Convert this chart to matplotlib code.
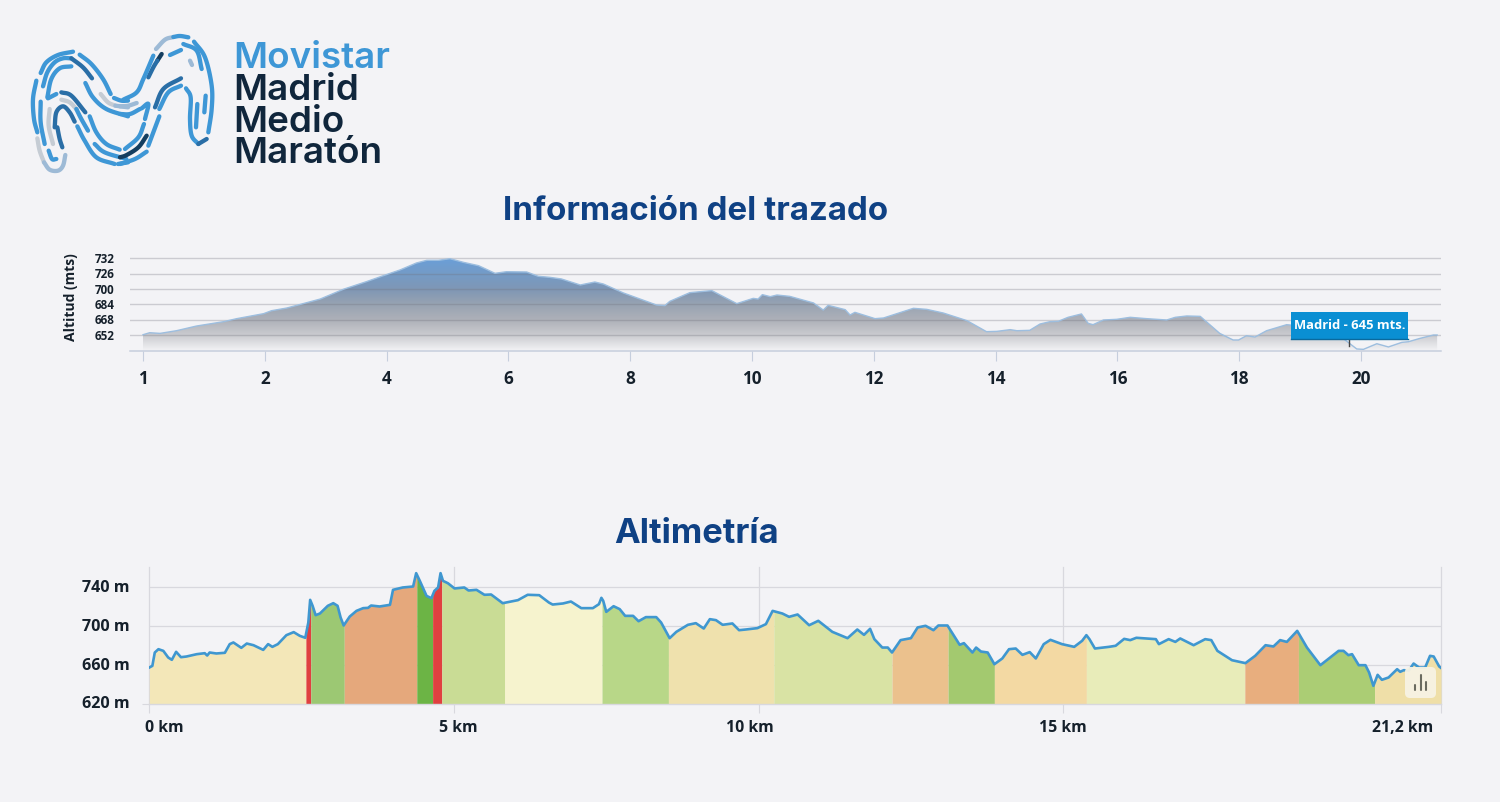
import numpy as np
import matplotlib
matplotlib.use("Agg")
import matplotlib.pyplot as plt
from matplotlib.colors import LinearSegmentedColormap
from matplotlib.patches import FancyBboxPatch, Rectangle, Polygon
from matplotlib.transforms import ScaledTranslation

W, H = 1500, 803
BG = "#F3F3F6"
INK = "#15202B"
NAVY = "#0F4184"
FONT = "Open Sans"

# ---------- route information chart ----------
route_km = [0.0,0.11,0.28,0.55,0.88,1.32,1.54,1.98,2.11,2.36,2.63,2.91,3.29,3.67,3.95,4.22,4.49,4.66,4.85,5.04,
            5.26,5.51,5.78,5.97,6.30,6.49,6.68,6.87,7.18,7.42,7.56,7.89,8.43,8.57,8.65,8.98,9.34,9.75,10.02,10.10,
            10.17,10.30,10.41,10.62,11.01,11.17,11.25,11.53,11.61,11.69,12.02,12.16,12.65,12.87,13.14,13.53,13.85,14.02,14.24,14.35,
            14.56,14.73,14.89,15.03,15.19,15.41,15.52,15.60,15.77,15.99,16.21,16.48,16.81,16.95,17.14,17.36,17.68,17.90,17.99,18.12,
            18.26,18.45,18.78,18.89,19.16,19.71,19.93,20.04,20.26,20.45,20.67,20.78,20.97,21.19,21.25]
route_alt = [652.3,654.4,653.7,656.5,661.4,665.9,669.1,674.3,677.4,680.2,684.8,689.6,699.8,707.8,714.1,720.0,727.3,730.1,730.1,731.8,
             728.0,724.5,716.5,718.2,717.9,713.4,712.3,710.6,704.3,707.4,705.3,695.9,683.4,682.7,687.2,696.3,698.4,684.8,690.3,689.6,
             694.2,692.1,693.8,692.4,685.5,678.1,683.0,678.5,672.9,675.7,669.1,669.8,679.9,678.8,675.0,667.0,655.5,655.8,657.6,656.5,
             656.9,663.5,665.9,666.3,670.5,674.0,664.2,662.8,667.7,668.4,670.5,669.1,667.7,670.5,671.9,671.5,653.7,646.8,646.8,651.3,
             649.9,656.5,662.8,662.1,648.9,648.2,637.4,637.0,642.9,639.5,644.3,645.0,648.5,652.0,652.0]
route_xticks = [0, 2, 4, 6, 8, 10, 12, 14, 16, 18, 20]
route_xlabels = ["1", "2", "4", "6", "8", "10", "12", "14", "16", "18", "20"]
route_yticks = [652, 668, 684, 700, 716, 732]
route_ylabels = ["652", "668", "684", "700", "726", "732"]
marker_km = 19.81
marker_tip = 640.5
marker_label = "Madrid - 645 mts."

# ---------- altimetry chart ----------
alt_km = [0,0.05,0.09,0.15,0.23,0.31,0.37,0.44,0.52,0.61,0.78,0.91,0.95,0.99,1.10,1.24,1.32,1.38,1.51,1.60,
          1.71,1.87,1.95,2.02,2.11,2.25,2.37,2.47,2.56,2.61,2.64,2.68,2.73,2.80,2.93,3.02,3.09,3.14,3.19,3.29,
          3.40,3.51,3.59,3.64,3.78,3.95,4.00,4.16,4.33,4.38,4.44,4.55,4.63,4.68,4.74,4.78,4.82,4.90,5.01,5.17,
          5.24,5.37,5.50,5.61,5.80,6.05,6.21,6.40,6.56,6.62,6.79,6.92,7.09,7.28,7.38,7.42,7.45,7.50,7.62,7.72,
          7.81,7.94,8.03,8.15,8.32,8.40,8.54,8.65,8.84,8.97,9.10,9.20,9.30,9.41,9.57,9.68,9.79,9.98,10.12,10.23,
          10.39,10.50,10.64,10.83,10.98,11.21,11.46,11.62,11.73,11.83,11.90,12.03,12.12,12.19,12.33,12.50,12.61,12.74,12.87,12.95,
          13.10,13.24,13.30,13.37,13.51,13.57,13.65,13.76,13.87,14.00,14.11,14.22,14.33,14.45,14.55,14.68,14.79,14.98,15.18,15.31,
          15.38,15.43,15.52,15.75,15.86,16.00,16.10,16.20,16.52,16.57,16.73,16.84,16.92,17.14,17.33,17.43,17.53,17.77,17.99,18.15,
          18.32,18.45,18.56,18.67,18.84,19.00,19.22,19.52,19.60,19.68,19.74,19.85,19.96,20.02,20.09,20.16,20.23,20.34,20.48,20.53,
          20.59,20.67,20.75,20.84,20.94,21.02,21.08,21.17,21.2]
alt_m = [656.9,658.6,672.3,675.7,674.0,667.2,664.8,673.0,667.5,668.2,670.6,671.6,669.2,672.3,671.3,672.0,680.9,682.6,677.1,681.5,
         679.8,675.0,680.9,678.1,680.9,690.1,693.2,689.4,687.4,703.1,726.3,720.2,710.6,712.3,720.2,722.9,720.2,708.2,700.0,709.2,
         715.0,717.8,718.1,720.5,719.5,721.2,736.6,739.0,740.0,753.7,745.8,730.4,728.0,735.6,739.0,753.7,745.8,743.4,738.0,739.0,
         735.9,736.6,731.5,731.8,722.9,726.0,731.5,731.1,723.5,721.5,722.6,724.6,717.8,717.8,721.9,728.4,725.3,714.0,719.8,716.8,
         709.9,709.9,704.4,708.6,708.6,703.1,687.0,693.5,700.7,702.4,696.9,706.5,705.5,700.7,702.1,695.2,695.9,697.3,701.4,715.0,
         712.3,708.9,711.3,700.3,704.8,693.5,687.0,695.9,690.4,696.6,686.0,677.4,677.4,672.3,685.0,687.0,698.0,699.7,695.2,700.0,
         700.0,686.0,680.2,681.9,672.3,677.4,673.3,672.3,660.3,666.2,675.7,676.4,669.9,672.7,666.2,680.9,685.3,680.9,678.1,684.3,
         690.1,686.0,676.4,678.1,679.2,686.3,685.0,687.4,686.0,680.9,686.0,683.2,686.7,679.8,686.0,685.0,674.0,664.4,661.4,668.9,
         679.8,678.5,685.0,683.2,694.5,677.4,659.3,674.0,674.0,669.6,670.6,659.3,659.3,651.8,638.1,649.4,644.3,646.7,655.2,652.5,
         654.2,653.5,661.0,656.9,656.9,668.9,668.2,658.0,656.5]
segment_edges = [0,2.57,2.65,3.20,4.39,4.65,4.80,5.83,7.43,8.52,10.25,12.19,13.11,13.87,15.38,17.98,18.86,20.11,21.2]
segment_colors = ["#F3E7B8","#E04040","#9CC873","#E5A87C","#6CB445","#E04040","#C9DC95","#F6F3CE","#B8D788",
                  "#EFE1AD","#D9E3A4","#EBC18D","#A3C96F","#F3D9A3","#E8ECB9","#E8AE7E","#ABCD74","#EFDFA8"]
alt_xticks = [0, 5, 10, 15, 21.2]
alt_xlabels = ["0 km", "5 km", "10 km", "15 km", "21,2 km"]
alt_yticks = [620, 660, 700, 740]
alt_ylabels = ["620 m", "660 m", "700 m", "740 m"]

MAIN, DARK, NAVYD, LIGHT, GREY = "#3E97D6", "#2A6EA6", "#143E60", "#9DBAD6", "#C5CCD4"
logo_strokes = [
 (28,MAIN,[(38,132),(55,100),(90,78),(135,68)]),
 (28,MAIN,[(155,77),(190,105),(225,150),(248,195)]),
 (28,MAIN,[(45,172),(58,130),(80,100),(105,88),(130,88)]),
 (28,DARK,[(130,88),(165,115),(192,148)]),
 (28,MAIN,[(58,205),(70,150),(95,118),(130,112)]),
 (28,MAIN,[(172,162),(195,205),(235,240),(300,262)]),
 (28,GREY,[(218,195),(240,220),(262,230)]),
 (28,LIGHT,[(262,230),(300,235)]),
 (28,MAIN,[(258,207),(280,215),(300,215)]),
 (28,MAIN,[(25,155),(15,210),(18,270),(28,310)]),
 (28,MAIN,[(38,218),(38,280),(50,345)]),
 (28,GREY,[(65,240),(62,290),(75,345)]),
 (28,MAIN,[(60,208),(85,195)]),
 (28,DARK,[(100,190),(130,200),(172,250)]),
 (28,GREY,[(100,212),(125,220),(145,240)]),
 (28,MAIN,[(145,240),(160,270),(180,305)]),
 (28,DARK,[(80,295),(85,250),(105,232),(125,250),(140,278)]),
 (28,DARK,[(88,295),(95,330),(103,355)]),
 (28,MAIN,[(148,292),(170,335),(205,385),(260,405)]),
 (28,MAIN,[(185,262),(205,310),(235,345),(275,362)]),
 (28,MAIN,[(200,345),(230,370),(295,390)]),
 (28,GREY,[(28,328),(35,365),(48,400)]),
 (28,LIGHT,[(48,400),(65,422),(90,425),(105,410),(112,378)]),
 (28,MAIN,[(62,365),(72,390),(85,390)]),
 (28,MAIN,[(270,405),(300,400)]),
 (120,LIGHT,[(108,60),(135,32),(160,24)]),
 (120,MAIN,[(160,24),(180,21),(205,25)]),
 (120,MAIN,[(190,45),(230,65),(245,120)]),
 (120,MAIN,[(222,38),(255,85),(275,170),(275,240),(265,310)]),
 (120,MAIN,[(150,78),(183,63)]),
 (120,LIGHT,[(210,95),(216,108)]),
 (120,NAVYD,[(125,75),(112,95)]),
 (120,DARK,[(112,95),(100,115),(85,145)]),
 (120,MAIN,[(100,80),(70,150),(50,190),(10,212)]),
 (120,DARK,[(105,235),(130,180),(183,148)]),
 (120,MAIN,[(118,240),(145,190),(183,170)]),
 (120,MAIN,[(198,178),(212,205),(210,270),(215,320),(235,345)]),
 (120,DARK,[(235,345),(260,330)]),
 (120,MAIN,[(232,225),(228,295)]),
 (120,MAIN,[(257,200),(253,250)]),
 (120,LIGHT,[(0,232),(25,230),(50,222)]),
 (120,MAIN,[(0,255),(30,255),(60,240)]),
 (120,MAIN,[(65,238),(85,225),(75,270)]),
 (120,MAIN,[(118,262),(100,310),(85,350)]),
 (120,MAIN,[(72,285),(55,325),(15,360)]),
 (120,NAVYD,[(80,320),(55,355),(20,378),(0,385)]),
 (120,MAIN,[(80,368),(45,390),(0,405)]),
]

def smooth(points, n=12):
    p = np.array(points, float)
    if len(p) < 3:
        return p
    q = np.vstack([2*p[0]-p[1], p, 2*p[-1]-p[-2]])
    out = []
    for i in range(1, len(q)-2):
        for t in np.linspace(0, 1, n, endpoint=False):
            out.append(0.5*((2*q[i]) + (q[i+1]-q[i-1])*t
                       + (2*q[i-1]-5*q[i]+4*q[i+1]-q[i+2])*t**2
                       + (3*q[i]-q[i-1]-3*q[i+1]+q[i+2])*t**3))
    out.append(p[-1])
    return np.array(out)

def axes_px(fig, left, top, right, bottom):
    return fig.add_axes([left/W, 1-bottom/H, (right-left)/W, (bottom-top)/H])

def shift_labels(labels, fig, dx=0, dy=0):
    for t in labels:
        t.set_transform(t.get_transform() + ScaledTranslation(dx/100, dy/100, fig.dpi_scale_trans))

fig = plt.figure(figsize=(W/100, H/100), dpi=100, facecolor=BG)
plt.rcParams["font.family"] = [FONT, "DejaVu Sans"]

# full-figure overlay in pixel coordinates for logo and headings
ov = fig.add_axes([0, 0, 1, 1], zorder=5)
ov.set_xlim(0, W); ov.set_ylim(H, 0); ov.axis("off"); ov.patch.set_alpha(0)

for x0, col, pts in logo_strokes:
    s = smooth(pts)
    ov.plot(x0 + s[:, 0]/3, 30 + s[:, 1]/3, color=col, lw=3.1, solid_capstyle="round")

for word, y, col in [("Movistar", 55, "#3E97D6"), ("Madrid", 87, "#10263C"),
                     ("Medio", 119, "#10263C"), ("Maratón", 150, "#10263C")]:
    ov.text(233.5, y, word, color=col, fontsize=26.5, fontweight="semibold",
            family="Inter", ha="left", va="center_baseline")
ov.text(696, 208.5, "Información del trazado", color=NAVY, fontsize=23.8, fontweight="bold",
        family="Inter", ha="center", va="center_baseline")
ov.text(696.5, 531, "Altimetría", color=NAVY, fontsize=24.8, fontweight="bold",
        family="Inter", ha="center", va="center_baseline")

# --- top chart ---
ax = axes_px(fig, 130, 255, 1441, 351.5)
ax.set_facecolor("none")
xl_top, yl_top = (-13/60.9, 1298/60.9), (635.8, 736.7)
cmap = LinearSegmentedColormap.from_list("g", [(0.0, "#F3F3F6"), (0.167, "#CBCCD0"), (0.333, "#AEB1B9"),
                                               (0.5, "#98A3B2"), (0.664, "#7F97B5"), (1.0, "#6A9FD8")])
grad = np.linspace(0, 1, 256)[:, None]
im = ax.imshow(grad, origin="lower", cmap=cmap, aspect="auto", zorder=1,
               extent=[route_km[0], route_km[-1], 635.8, 732.5])
poly = Polygon(np.column_stack([[route_km[0]] + route_km + [route_km[-1]],
                                [635.8] + route_alt + [635.8]]), closed=True,
               transform=ax.transData, fc="none", ec="none")
ax.add_patch(poly)
im.set_clip_path(poly)
ax.set_xlim(*xl_top)
ax.set_ylim(*yl_top)
ax.plot(route_km, route_alt, color="#9DBEDF", lw=1.0, zorder=3)
ax.set_yticks(route_yticks, route_ylabels)
ax.set_xticks(route_xticks, route_xlabels)
ax.grid(axis="y", color="#70707C", alpha=0.3, lw=1.0, zorder=2)
for s in ("top", "left", "right"):
    ax.spines[s].set_visible(False)
ax.spines["bottom"].set_color("#C6CEDD"); ax.spines["bottom"].set_linewidth(1.1)
ax.tick_params(axis="y", length=0, pad=11, labelsize=8.4, labelcolor=INK)
ax.tick_params(axis="x", length=7.2, width=0.8, color="#C6CEDD", pad=6.3, labelsize=12.3, labelcolor=INK)
for t in ax.get_xticklabels() + ax.get_yticklabels():
    t.set_fontweight("bold")
shift_labels(ax.get_yticklabels(), fig, dy=1.5)
ov.text(71, 297, "Altitud (mts)", rotation=90, color=INK, fontsize=10, fontweight="bold",
        ha="center", va="center")

# tooltip
ov.add_patch(Rectangle((1291, 313), 117, 27, fc="#0A8FD3", ec="none"))
ov.plot([1291, 1408], [340, 340], color="#0A6A9E", lw=1)
ov.text(1349.5, 326, marker_label, color="white", fontsize=9.4, fontweight="bold", ha="center", va="center")
ax.plot([marker_km, marker_km], [marker_tip, 648], color="#444444", lw=1, zorder=6)

# --- bottom chart ---
bx = axes_px(fig, 149.3, 568.3, 1441, 704.5)
bx.set_facecolor("none")
bx.set_xlim(0, 21.2)
bx.set_ylim(620, 759.7)
km = np.array(alt_km); m = np.array(alt_m)
for a, b, c in zip(segment_edges[:-1], segment_edges[1:], segment_colors):
    mask = (km > a) & (km < b)
    xs = np.r_[a, km[mask], b]
    ys = np.r_[np.interp(a, km, m), m[mask], np.interp(b, km, m)]
    bx.fill_between(xs, 620, ys, color=c, lw=0, zorder=2)
bx.plot(km, m, color="#3F97D0", lw=1.9, zorder=3, solid_joinstyle="round")
bx.set_xticks(alt_xticks, alt_xlabels)
bx.set_yticks(alt_yticks, alt_ylabels)
bx.grid(True, color="#D8D8DE", lw=0.9, zorder=0)
bx.set_axisbelow(True)
for l in bx.get_xgridlines():
    l.set_clip_on(False)
for s in ("top", "left", "right"):
    bx.spines[s].set_visible(False)
bx.spines["bottom"].set_color("#D8D8DE"); bx.spines["bottom"].set_linewidth(1)
bx.tick_params(axis="x", length=6.5, width=0.8, color="#D8D8DE", pad=4.6, labelsize=11.4, labelcolor=INK)
bx.tick_params(axis="y", length=0, pad=14, labelsize=11.6, labelcolor=INK, color="#D8D8DE")
first = bx.yaxis.get_major_ticks()[0].tick1line
first.set_markersize(5)
first.set_markeredgecolor("#D8D8DE")
for t in bx.get_yticklabels():
    t.set_fontweight("bold")
shift_labels(bx.get_yticklabels(), fig, dy=2)
for t, dx in zip(bx.get_xticklabels(), [15, 4, -9, 0, -38]):
    t.set_fontweight("bold")
    shift_labels([t], fig, dx=dx)

# chart-type button
ov.add_patch(FancyBboxPatch((1408, 671), 25, 25, boxstyle="round,pad=3,rounding_size=5",
                            fc="#F7F3E4", ec="none", alpha=0.95))
for x, top in [(1415, 686), (1421, 676), (1426, 683)]:
    ov.plot([x, x], [top, 691], color="#6B6B60", lw=1.5, solid_capstyle="round")

fig.savefig("out.png", dpi=100, facecolor=BG)
